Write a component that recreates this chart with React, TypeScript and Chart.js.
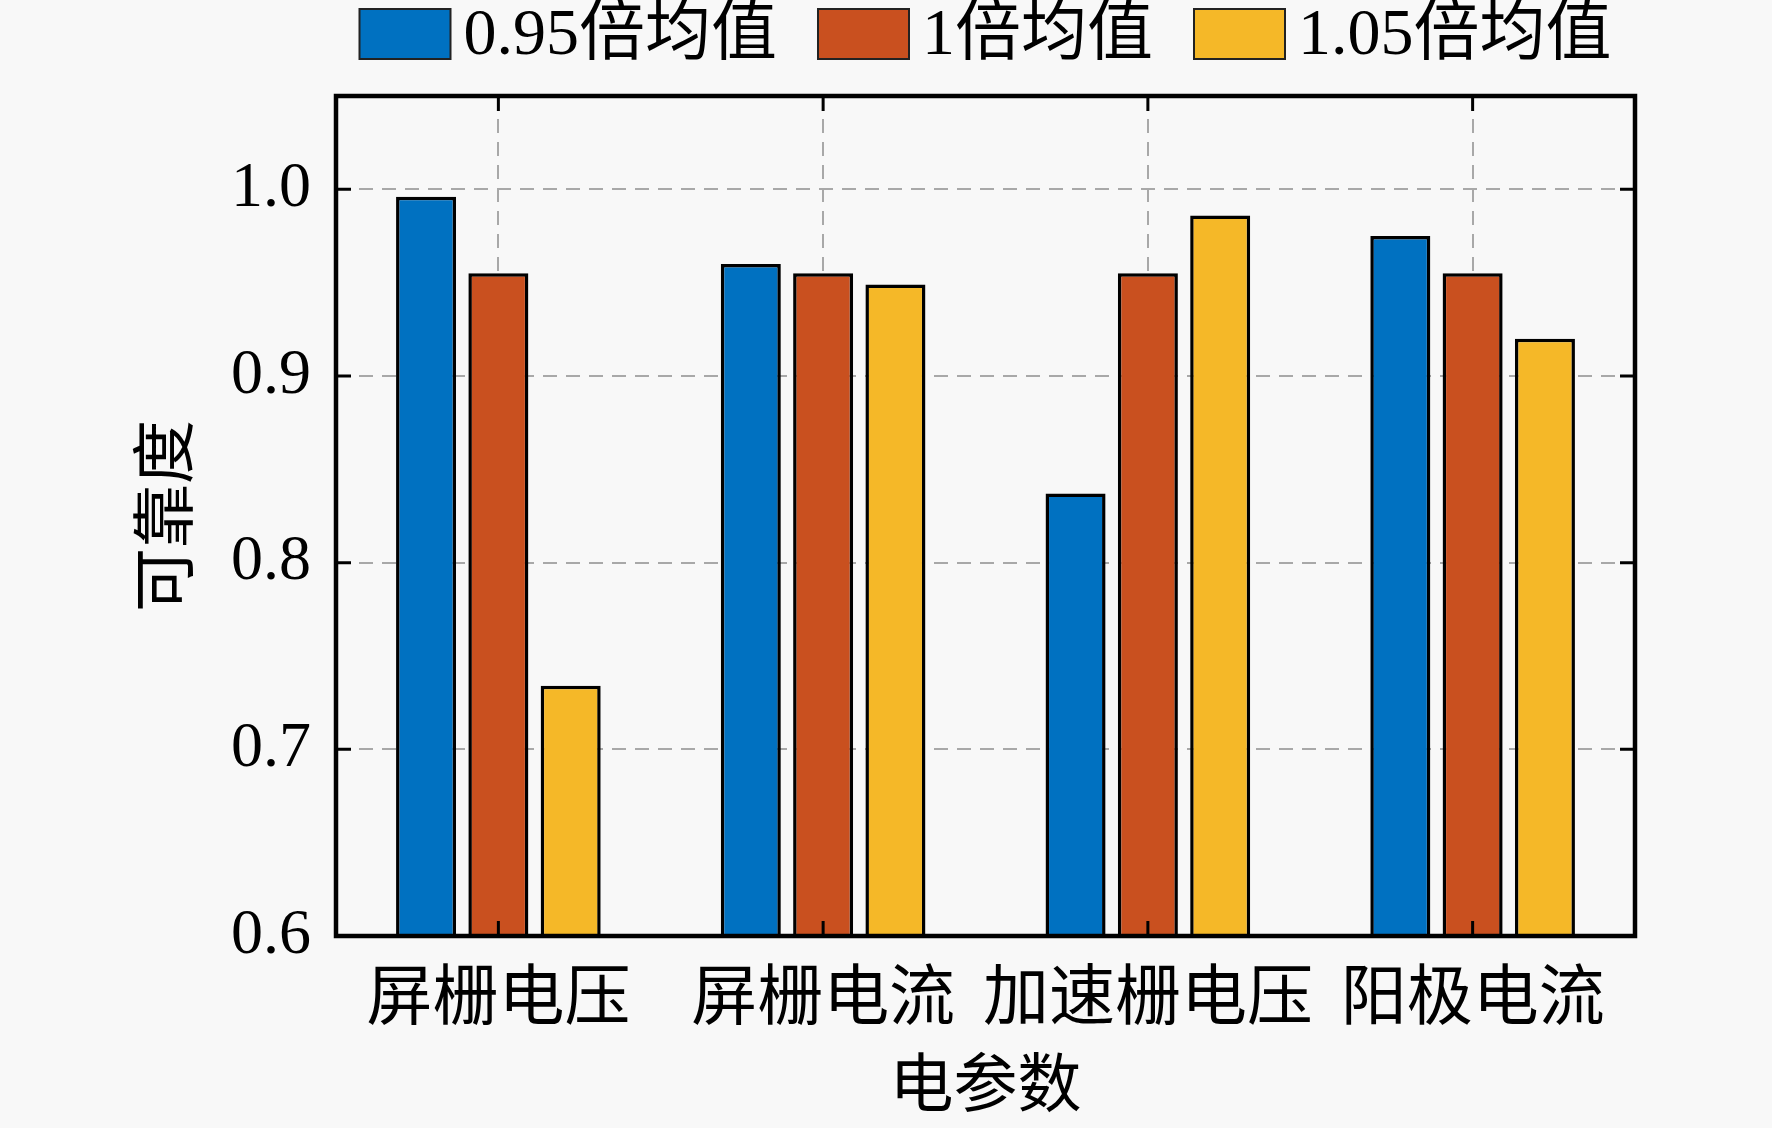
import { useEffect, useRef } from "react"
import { Chart, registerables } from "chart.js"

Chart.register(...registerables)

const categories = ["屏栅电压", "屏栅电流", "加速栅电压", "阳极电流"]
const seriesNames = ["0.95倍均值", "1倍均值", "1.05倍均值"]
const values095 = [0.996, 0.96, 0.837, 0.975]
const values100 = [0.955, 0.955, 0.955, 0.955]
const values105 = [0.734, 0.949, 0.986, 0.92]
const yTicks = [0.6, 0.7, 0.8, 0.9, 1.0]
const colors = ["#0071C1", "#C9501F", "#F5B828"]

const FONT = "'Liberation Serif', 'Times New Roman', 'Noto Sans CJK SC', serif"
const GRID = "#a8a8a8"

// light grey page behind everything
const background = {
  id: "background",
  beforeDraw(chart: Chart) {
    const { ctx, width, height } = chart
    ctx.save()
    ctx.fillStyle = "#f8f8f8"
    ctx.fillRect(0, 0, width, height)
    ctx.restore()
  },
}

// box around the plot with inward ticks on all four sides
const frame = {
  id: "frame",
  afterDraw(chart: Chart) {
    const { ctx, chartArea: a, scales } = chart
    const t = 15
    ctx.save()
    ctx.strokeStyle = "#000"
    ctx.lineWidth = 3
    ctx.beginPath()
    yTicks.forEach((v) => {
      const py = scales.y.getPixelForValue(v)
      ctx.moveTo(a.left, py)
      ctx.lineTo(a.left + t, py)
      ctx.moveTo(a.right, py)
      ctx.lineTo(a.right - t, py)
    })
    categories.forEach((_, i) => {
      const px = scales.x.getPixelForValue(i)
      ctx.moveTo(px, a.top)
      ctx.lineTo(px, a.top + t)
      ctx.moveTo(px, a.bottom)
      ctx.lineTo(px, a.bottom - t)
    })
    ctx.stroke()
    ctx.lineWidth = 4.5
    ctx.strokeRect(a.left, a.top, a.right - a.left, a.bottom - a.top)
    ctx.restore()
  },
}

// legend row above the plot
const legendRow = {
  id: "legendRow",
  afterDraw(chart: Chart) {
    const { ctx, chartArea: a } = chart
    const boxW = 91
    const boxH = 50
    const textGap = 13
    const itemGap = 41
    const cy = 34
    ctx.save()
    ctx.font = `66px ${FONT}`
    const items = chart.data.datasets.map((ds) => ({
      label: ds.label as string,
      color: ds.backgroundColor as string,
      w: ctx.measureText(ds.label as string).width,
    }))
    const total =
      items.reduce((s, it) => s + boxW + textGap + it.w, 0) + itemGap * (items.length - 1)
    let x = (a.left + a.right) / 2 - total / 2
    items.forEach((it) => {
      ctx.fillStyle = it.color
      ctx.fillRect(x, cy - boxH / 2, boxW, boxH)
      ctx.strokeStyle = "#222"
      ctx.lineWidth = 2
      ctx.strokeRect(x, cy - boxH / 2, boxW, boxH)
      ctx.fillStyle = "#000"
      ctx.textAlign = "left"
      ctx.textBaseline = "middle"
      ctx.fillText(it.label, x + boxW + textGap, cy + 3)
      x += boxW + textGap + it.w + itemGap
    })
    ctx.restore()
  },
}

export default function App() {
  const chartRef = useRef<HTMLCanvasElement>(null)

  useEffect(() => {
    if (!chartRef.current) return

    const series = [values095, values100, values105]

    const chart = new Chart(chartRef.current, {
      type: "bar",
      data: {
        labels: categories,
        datasets: series.map((data, i) => ({
          label: seriesNames[i],
          data,
          backgroundColor: colors[i],
          borderColor: "#000",
          borderWidth: 3.5,
          categoryPercentage: 0.668,
          barPercentage: 0.83,
        })),
      },
      options: {
        responsive: false,
        animation: false,
        devicePixelRatio: 1,
        layout: { padding: { top: 96, right: 137, left: 0, bottom: 0 } },
        plugins: {
          legend: { display: false },
          tooltip: { enabled: false },
        },
        scales: {
          x: {
            offset: true,
            grid: { offset: false, color: GRID, lineWidth: 2, drawTicks: false },
            border: { display: false, dash: [14, 9] },
            ticks: {
              font: { family: FONT, size: 66 },
              color: "#000",
              padding: 26,
              maxRotation: 0,
              autoSkip: false,
            },
            title: {
              display: true,
              text: "电参数",
              font: { family: FONT, size: 64 },
              color: "#000",
              padding: { top: 0, bottom: 0 },
            },
            afterFit: (s) => {
              s.height = 192
            },
          },
          y: {
            min: 0.6,
            max: 1.05,
            afterBuildTicks: (s) => {
              s.ticks = yTicks.map((v) => ({ value: v }))
            },
            grid: { color: GRID, lineWidth: 2, drawTicks: false },
            border: { display: false, dash: [14, 9] },
            ticks: {
              font: { family: FONT, size: 64 },
              color: "#000",
              padding: 25,
              callback: (v) => Number(v).toFixed(1),
            },
            title: {
              display: true,
              text: "可靠度",
              font: { family: FONT, size: 64 },
              color: "#000",
              padding: { top: 132, bottom: 0 },
            },
            afterFit: (s) => {
              s.width = 336
            },
          },
        },
      },
      plugins: [background, frame, legendRow],
    })

    return () => {
      chart.destroy()
    }
  }, [])

  return (
    <div style={{ position: "fixed", left: 0, top: 0, width: 1772, height: 1128, background: "#f8f8f8" }}>
      <canvas ref={chartRef} width={1772} height={1128} style={{ display: "block", width: 1772, height: 1128 }} />
    </div>
  )
}
